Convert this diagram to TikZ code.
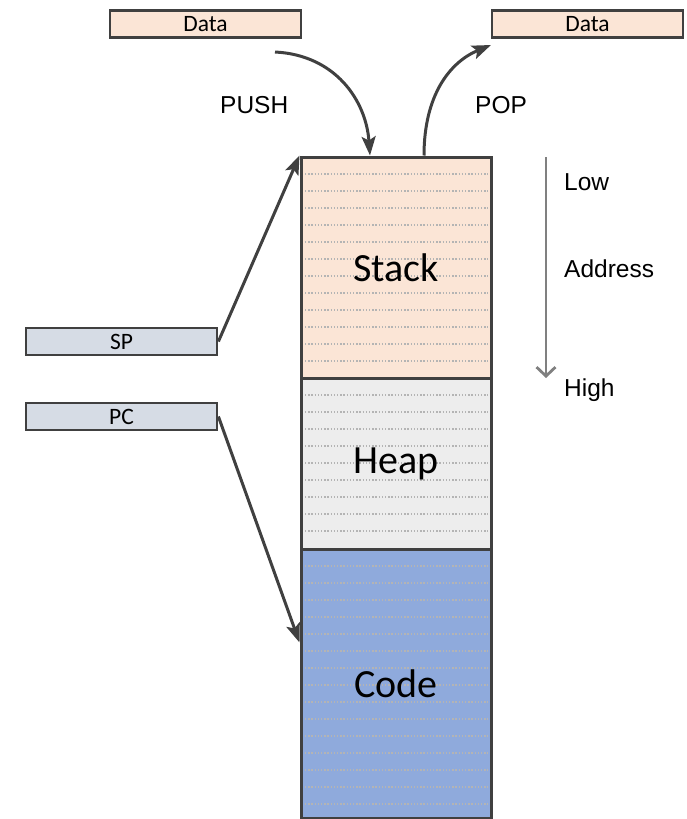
\documentclass[tikz,border=0pt]{standalone}
\usepackage{fontspec}
\setmainfont{Carlito}
\newfontfamily\arial{Liberation Sans}
\usetikzlibrary{arrows.meta}
\definecolor{edge}{HTML}{404040}
\definecolor{stackc}{HTML}{FBE5D6}
\definecolor{heapc}{HTML}{EDEDED}
\definecolor{codec}{HTML}{8FAADC}
\definecolor{regc}{HTML}{D6DCE5}
\definecolor{dotc}{HTML}{B4B4B4}
\definecolor{addrc}{HTML}{808080}
\tikzset{
  seg/.style={draw=edge, line width=3pt, minimum width=190pt, inner sep=0pt,
              font=\fontsize{40}{44}\selectfont},
  rows/.style={path picture={
      \foreach \k in {1,...,#1}
        \draw[dotc, line width=1.2pt, dash pattern=on 1.4pt off 1.8pt]
          ([xshift=4pt, yshift={-17pt*\k}]path picture bounding box.north west) --
          ([xshift=-3pt, yshift={-17pt*\k}]path picture bounding box.north east);}},
  reg/.style={draw=edge, line width=2.8pt, minimum width=191pt, minimum height=27pt,
              inner sep=0pt, font=\fontsize{23.5}{25}\selectfont},
  arr/.style={edge, line width=3pt, -{Stealth[length=19pt, width=14pt, inset=4pt]}},
  lbl/.style={anchor=base west, inner sep=0pt, font=\arial\fontsize{24.5}{27}\selectfont},
}
\begin{document}
\begin{tikzpicture}[x=1pt, y=-1pt]
\useasboundingbox (0,0) rectangle (687,819);

% memory segments
\node[seg, rows=12, fill=stackc, minimum height=221pt] (stack) at (396,267.5) {Stack};
\node[seg, rows=9,  fill=heapc,  minimum height=171pt] (heap)  at (396,463.5) {Heap};
\node[seg, rows=15, fill=codec,  minimum height=269pt] (code)  at (396,683.5) {Code};

% data and registers
\node[reg, fill=stackc] (din)  at (205.5,24) {Data};
\node[reg, fill=stackc] (dout) at (587.5,24) {Data};
\node[reg, fill=regc]   (sp)   at (121.5,341.5) {SP};
\node[reg, fill=regc]   (pc)   at (121.5,416.5) {PC};

% push / pop
\coordinate (pushfrom) at (275,52);
\coordinate (pushto) at ([xshift=-26pt]stack.north);
\coordinate (popfrom) at ([xshift=28pt]stack.north);
\coordinate (popto) at (491,45);
\draw[arr] (pushfrom) .. controls (335,55) and (366,100) .. (pushto);
\draw[arr] (popfrom) .. controls (424,95) and (450,62) .. (popto);
\node[lbl] (push) at (220,113) {PUSH};
\node[lbl] (pop)  at (475,113) {POP};

% register pointers
\coordinate (pcto) at ([yshift=41pt]code.west);
\draw[arr] (sp.east) -- (stack.north west);
\draw[arr] (pc.east) -- (pcto);

% address direction
\coordinate (addrtop) at (546,157);
\coordinate (addrbot) at (546,378);
\draw[addrc, line width=2.8pt, -{Straight Barb[length=9pt, width=19pt]}] (addrtop) -- (addrbot);
\node[lbl] (low)  at (564,190) {Low};
\node[lbl] (addr) at (564,277) {Address};
\node[lbl] (high) at (564,396) {High};
\end{tikzpicture}
\end{document}
